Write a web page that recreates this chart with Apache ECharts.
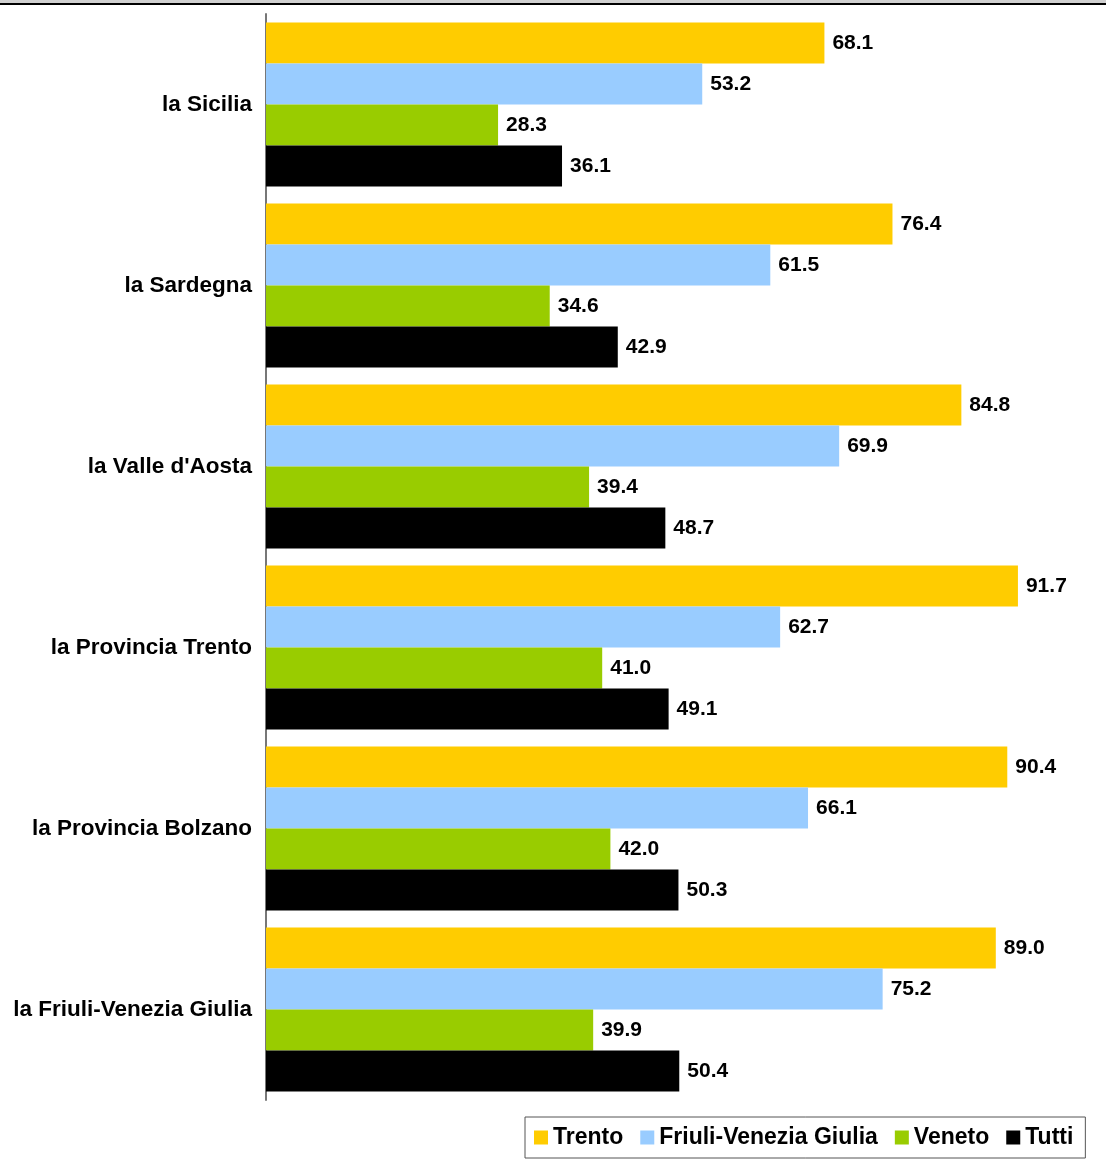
<!DOCTYPE html>
<html>
<head>
<meta charset="utf-8">
<script src="https://cdn.jsdelivr.net/npm/echarts@6/dist/echarts.min.js"></script>
<style>
  html, body { margin: 0; padding: 0; background: #fff; }
  #chart { width: 1106px; height: 1164px; }
</style>
</head>
<body>
<div id="chart"></div>
<script>
// categories, top to bottom
const regions = ['la Sicilia', 'la Sardegna', "la Valle d'Aosta", 'la Provincia Trento', 'la Provincia Bolzano', 'la Friuli-Venezia Giulia']

// values per series
const trento = [68.1, 76.4, 84.8, 91.7, 90.4, 89.0]
const friuli = [53.2, 61.5, 69.9, 62.7, 66.1, 75.2]
const veneto = [28.3, 34.6, 39.4, 41.0, 42.0, 39.9]
const tutti = [36.1, 42.9, 48.7, 49.1, 50.3, 50.4]

const seriesNames = ['Trento', 'Friuli-Venezia Giulia', 'Veneto', 'Tutti']
const seriesColors = ['#FFCC00', '#99CCFF', '#99CC00', '#000000']

const font = 'Liberation Sans, Arial, sans-serif'

const myChart = echarts.init(document.getElementById('chart'))

const makeSeries = (name, data, color) => ({
  name: name,
  type: 'bar',
  data: data,
  barGap: '0%',
  barCategoryGap: '9.5%',
  itemStyle: { color: color },
  label: {
    show: true,
    position: 'right',
    distance: 8,
    formatter: (p) => p.value.toFixed(1),
    color: '#000',
    fontFamily: font,
    fontWeight: 'bold',
    fontSize: 21
  }
})

myChart.setOption({
  animation: false,
  grid: { left: 266, right: 20, top: 14, bottom: 64 },
  // thin rule across the top of the picture
  graphic: [
    { type: 'rect', shape: { x: 0, y: 0, width: 1106, height: 3 }, style: { fill: '#d0d0d0' } },
    { type: 'rect', shape: { x: 0, y: 3, width: 1106, height: 2 }, style: { fill: '#000' } }
  ],
  legend: {
    left: 525,
    top: 1117,
    padding: [9, 12, 9, 9],
    borderColor: '#555',
    borderWidth: 1,
    itemWidth: 14,
    itemHeight: 14,
    itemGap: 17,
    icon: 'rect',
    textStyle: { fontFamily: font, fontWeight: 'bold', fontSize: 23, color: '#000' },
    data: seriesNames
  },
  xAxis: {
    type: 'value',
    min: 0,
    max: 100,
    show: false
  },
  yAxis: {
    type: 'category',
    inverse: true,
    data: regions,
    axisLine: { show: true, lineStyle: { color: '#777', width: 2 } },
    axisTick: { show: false },
    axisLabel: {
      margin: 14,
      color: '#000',
      fontFamily: font,
      fontWeight: 'bold',
      fontSize: 22.5
    }
  },
  series: [
    makeSeries(seriesNames[0], trento, seriesColors[0]),
    makeSeries(seriesNames[1], friuli, seriesColors[1]),
    makeSeries(seriesNames[2], veneto, seriesColors[2]),
    makeSeries(seriesNames[3], tutti, seriesColors[3])
  ]
})
</script>
</body>
</html>
